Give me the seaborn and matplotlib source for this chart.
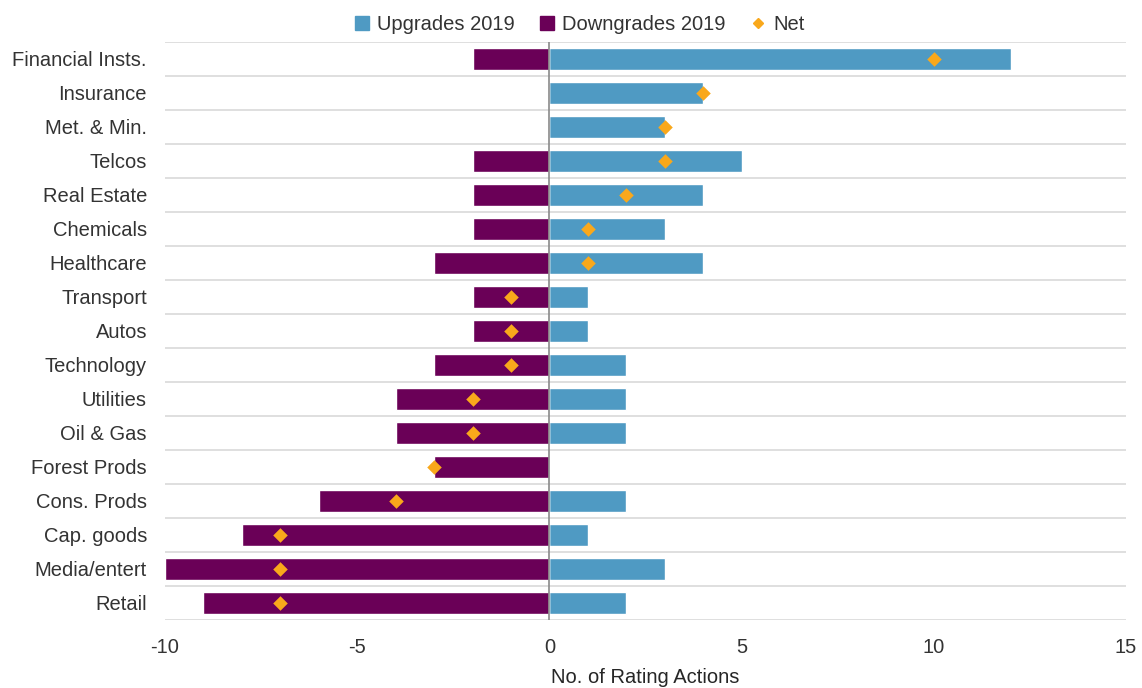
import numpy as np
import pandas as pd
import matplotlib
matplotlib.use("Agg")
import matplotlib.pyplot as plt
from matplotlib.lines import Line2D
import seaborn as sns

sectors = ["Financial Insts.", "Insurance", "Met. & Min.", "Telcos", "Real Estate",
           "Chemicals", "Healthcare", "Transport", "Autos", "Technology",
           "Utilities", "Oil & Gas", "Forest Prods", "Cons. Prods", "Cap. goods",
           "Media/entert", "Retail"]
upgrades = [12, 4, 3, 5, 4, 3, 4, 1, 1, 2, 2, 2, 0, 2, 1, 3, 2]
downgrades = [-2, 0, 0, -2, -2, -2, -3, -2, -2, -3, -4, -4, -3, -6, -8, -10, -9]
net = [10, 4, 3, 3, 2, 1, 1, -1, -1, -1, -2, -2, -3, -4, -7, -7, -7]

c_up = "#4F9AC3"
c_down = "#6A0057"
c_net = "#F9A81B"

df = pd.DataFrame({"sector": sectors, "up": upgrades, "down": downgrades, "net": net})

sns.set_style("white")
plt.rcParams["font.family"] = ["Liberation Sans", "DejaVu Sans"]
plt.rcParams["text.color"] = "#333333"

fig = plt.figure(figsize=(11.42, 6.88), dpi=100)
ax = fig.add_axes([0.1445, 0.099, 0.8415, 0.84])

sns.barplot(data=df, y="sector", x="up", orient="h", color=c_up, width=0.66,
            saturation=1, ax=ax, zorder=2)
sns.barplot(data=df, y="sector", x="down", orient="h", color=c_down, width=0.66,
            saturation=1, ax=ax, zorder=2)
ax.scatter(df["net"], np.arange(len(df)), marker="D", s=55, color=c_net,
           zorder=4, linewidths=0)

ax.set_xlim(-10, 15)
ax.set_ylim(len(df) - 0.5, -0.5)
ax.set_xticks([-10, -5, 0, 5, 10, 15])
ax.set_xticklabels(["-10", "-5", "0", "5", "10", "15"])
ax.set_yticks(np.arange(len(df)), minor=False)
ax.set_yticks(np.arange(-0.5, len(df)), minor=True)
ax.grid(False)
ax.grid(True, which="minor", axis="y", color="#D9D9D9", linewidth=1.2, zorder=0)
ax.axvline(0, color="#8A8A8A", linewidth=1.2, zorder=3)
for s in ax.spines.values():
    s.set_visible(False)
ax.tick_params(axis="both", which="both", length=0, labelsize=14.5, colors="#333333")
ax.tick_params(axis="y", pad=13)
ax.tick_params(axis="x", pad=13)
ax.set_ylabel("")
ax.set_xlabel("No. of Rating Actions", fontsize=14.5, labelpad=8)

handles = [
    Line2D([], [], marker="s", linestyle="", color=c_up, markersize=10.5),
    Line2D([], [], marker="s", linestyle="", color=c_down, markersize=10.5),
    Line2D([], [], marker="D", linestyle="", color=c_net, markersize=5),
]
ax.legend(handles, ["Upgrades 2019", "Downgrades 2019", "Net"], ncol=3,
          loc="lower center", bbox_to_anchor=(0.43, 1.0), frameon=False,
          fontsize=14.5, handlelength=1.0, handletextpad=0.25, columnspacing=1.1,
          borderaxespad=0)

fig.savefig("out.png", dpi=100)
